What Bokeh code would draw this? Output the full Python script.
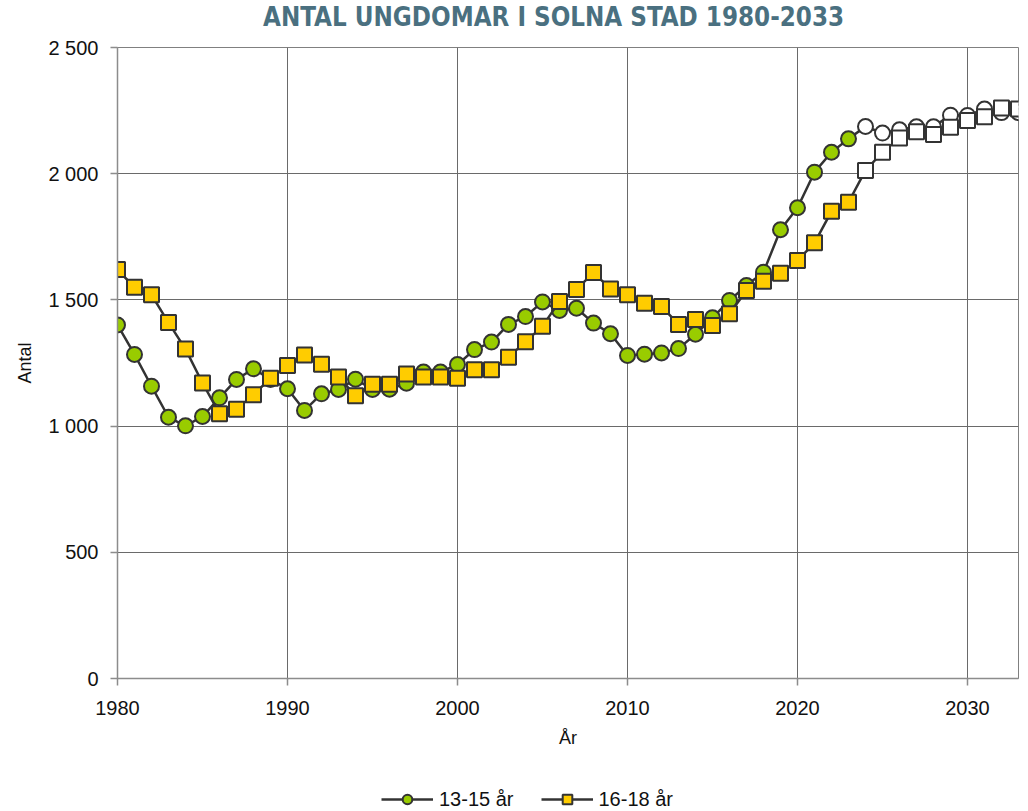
from bokeh.plotting import figure
from bokeh.layouts import column
from bokeh.models import FixedTicker, Legend, LegendItem, ColumnDataSource, Label
from bokeh.embed import file_html
from bokeh.resources import INLINE

years = list(range(1980, 2034))
age_13_15 = [1401, 1284, 1158, 1035, 1001, 1038, 1112, 1185, 1227, 1185,
             1148, 1062, 1128, 1145, 1186, 1145, 1146, 1170, 1214, 1214,
             1244, 1303, 1333, 1403, 1434, 1492, 1458, 1467, 1408, 1366,
             1280, 1285, 1290, 1307, 1364, 1429, 1498, 1557, 1610, 1778,
             1865, 2006, 2085, 2138,
             2187, 2161, 2174, 2186, 2186, 2232, 2231, 2256, 2242, 2242]
age_16_18 = [1620, 1550, 1520, 1410, 1305, 1171, 1049, 1067, 1124, 1190,
             1240, 1282, 1245, 1195, 1120, 1166, 1166, 1206, 1195, 1195,
             1190, 1223, 1223, 1273, 1334, 1396, 1494, 1541, 1609, 1543,
             1520, 1487, 1474, 1403, 1422, 1399, 1445, 1537, 1574, 1606,
             1656, 1726, 1851, 1887,
             2013, 2085, 2141, 2166, 2155, 2184, 2211, 2226, 2260, 2256]
first_projection_year = 2024
y_ticks = [0, 500, 1000, 1500, 2000, 2500]
y_tick_labels = ["0", "500", "1 000", "1 500", "2 000", "2 500"]
x_ticks = [1980, 1990, 2000, 2010, 2020, 2030]
series_names = ["13-15 år", "16-18 år"]
title_text = "ANTAL UNGDOMAR I SOLNA STAD 1980-2033"

split = years.index(first_projection_year)

LINE_COL = "#333333"
GREEN = "#99cc00"
YELLOW = "#ffcc00"


def strip(height):
    f = figure(width=1024, height=height, x_range=(0, 1), y_range=(0, 1),
               output_backend="svg", toolbar_location=None,
               min_border=0, outline_line_color=None)
    f.axis.visible = False
    f.grid.visible = False
    f.title.visible = False
    return f


# title strip
pt = strip(36)
pt.add_layout(Label(x=0.484, y=0.53, text=title_text, text_align="center",
                    text_baseline="middle",
                    text_font="DejaVu Sans Condensed, Roboto, sans-serif",
                    text_font_style="bold", text_font_size="25.7px",
                    text_color="#4a7080"))

# main chart
p = figure(width=1024, height=751, x_range=(1980, 2033), y_range=(0, 2500),
           output_backend="svg", toolbar_location=None,
           min_border_left=117, min_border_right=6, min_border_top=11,
           min_border_bottom=109)
p.title.visible = False

p.background_fill_color = "white"
p.border_fill_color = "white"
p.outline_line_color = "#808080"
p.outline_line_width = 1

p.xgrid.ticker = FixedTicker(ticks=x_ticks)
p.ygrid.ticker = FixedTicker(ticks=y_ticks)
for g in (p.xgrid, p.ygrid):
    g.grid_line_color = "#6a6a6a"
    g.grid_line_width = 1

p.xaxis.ticker = FixedTicker(ticks=x_ticks)
p.yaxis.ticker = FixedTicker(ticks=y_ticks)
p.yaxis.major_label_overrides = {t: l for t, l in zip(y_ticks, y_tick_labels)}
for ax in (p.xaxis, p.yaxis):
    ax.axis_line_color = "#8c8c8c"
    ax.axis_line_width = 1.5
    ax.major_tick_line_color = "#8c8c8c"
    ax.major_tick_line_width = 1.5
    ax.major_tick_in = 0
    ax.major_tick_out = 7
    ax.minor_tick_line_color = None
    ax.major_label_text_font = "Liberation Sans"
    ax.major_label_text_font_size = "20px"
    ax.major_label_text_color = "#111111"
    ax.axis_label_text_font = "Liberation Sans"
    ax.axis_label_text_font_style = "normal"
    ax.axis_label_text_font_size = "18px"
    ax.axis_label_text_color = "#111111"
p.xaxis.major_label_standoff = 15
p.yaxis.major_label_standoff = 12
p.xaxis.axis_label = "År"
p.yaxis.axis_label = "Antal"
p.xaxis.axis_label_standoff = 10
p.yaxis.axis_label_standoff = 10

src_all = ColumnDataSource(dict(x=years, a=age_13_15, b=age_16_18))
src_obs = ColumnDataSource(dict(x=years[:split], a=age_13_15[:split], b=age_16_18[:split]))
src_proj = ColumnDataSource(dict(x=years[split:], a=age_13_15[split:], b=age_16_18[split:]))


def draw(fig, col, marker, color):
    ln = fig.line("x", col, source=src_all, line_color=LINE_COL, line_width=2.5)
    sc = fig.scatter("x", col, source=src_obs, marker=marker, size=15,
                     fill_color=color, line_color=LINE_COL, line_width=2)
    return ln, sc


l1, m1 = draw(p, "a", "circle", GREEN)
p.scatter("x", "a", source=src_proj, marker="circle", size=15,
          fill_color="white", line_color=LINE_COL, line_width=2)
l2, m2 = draw(p, "b", "square", YELLOW)
p.scatter("x", "b", source=src_proj, marker="square", size=15,
          fill_color="white", line_color=LINE_COL, line_width=2)

# legend strip (its renderers use the same data, which lies outside this strip's range)
pl = strip(24)
k1, s1 = draw(pl, "a", "circle", GREEN)
k2, s2 = draw(pl, "b", "square", YELLOW)
legend = Legend(items=[LegendItem(label=series_names[0], renderers=[k1, s1]),
                       LegendItem(label=series_names[1], renderers=[k2, s2])],
                orientation="horizontal", location=(264, 0),
                glyph_width=52, glyph_height=24, label_height=24,
                label_standoff=6, spacing=27,
                padding=0, margin=0, border_line_color=None,
                background_fill_alpha=0,
                label_text_font="Liberation Sans", label_text_font_size="20px",
                label_text_color="#111111")
pl.add_layout(legend, "center")

layout = column(pt, p, pl, spacing=0)
open("out.html", "w").write(file_html(layout, INLINE))
